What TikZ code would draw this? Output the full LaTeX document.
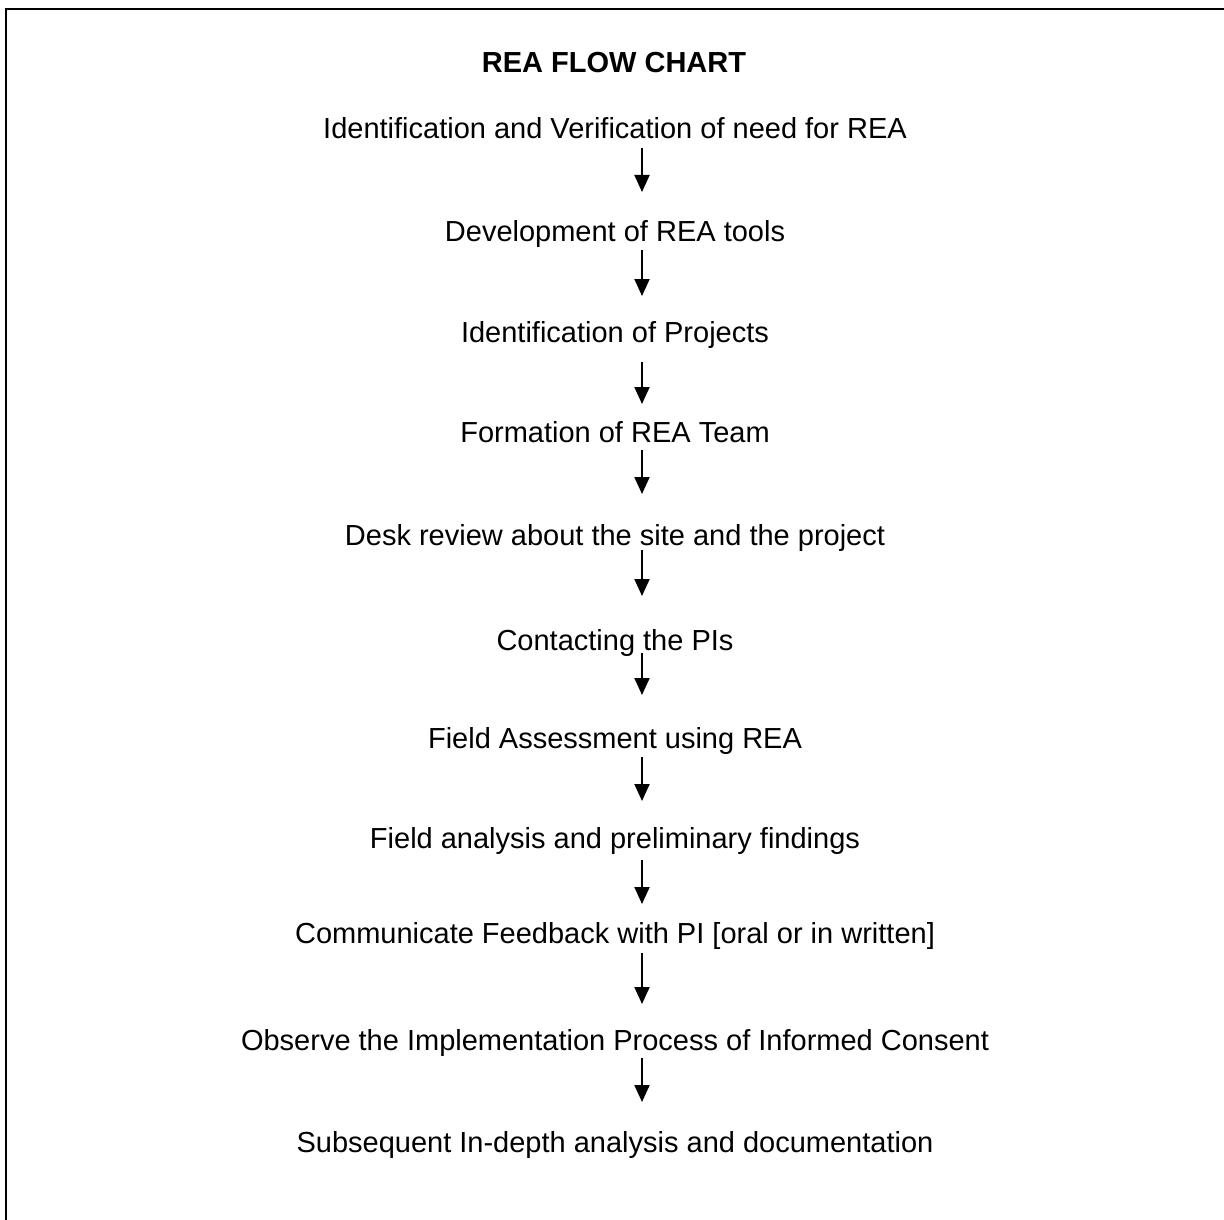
\documentclass[tikz,border=0pt]{standalone}
\usepackage{fontspec}
\setmainfont{Liberation Sans}
\usetikzlibrary{arrows.meta}
\begin{document}
\begin{tikzpicture}[x=1pt,y=-1pt,
  stepnode/.style={anchor=base,inner sep=0pt,font=\fontsize{29}{34}\selectfont},
  titlenode/.style={anchor=base,inner sep=0pt,font=\fontsize{29}{34}\selectfont\bfseries},
  flowarrow/.style={line width=2pt,-{Triangle[length=17pt,width=15pt]}},
  frameline/.style={line width=2pt}]
\useasboundingbox (0,0) rectangle (1224,1220);
\fill[white] (0,0) rectangle (1224,1220);
\draw[frameline] (6,1230) -- (6,9) -- (1234,9);
\node[titlenode] (title) at (614,73) {REA FLOW CHART};
\node[stepnode] (s1) at (615,139) {Identification and Verification of need for REA};
\node[stepnode] (s2) at (615,241) {Development of REA tools};
\node[stepnode] (s3) at (615,342) {Identification of Projects};
\node[stepnode] (s4) at (615,442) {Formation of REA Team};
\node[stepnode] (s5) at (615,545) {Desk review about the site and the project};
\node[stepnode] (s6) at (615,650) {Contacting the PIs};
\node[stepnode] (s7) at (615,748) {Field Assessment using REA};
\node[stepnode] (s8) at (615,848) {Field analysis and preliminary findings};
\node[stepnode] (s9) at (615,943) {Communicate Feedback with PI [oral or in written]};
\node[stepnode] (s10) at (615,1050) {Observe the Implementation Process of Informed Consent};
\node[stepnode] (s11) at (615,1152) {Subsequent In-depth analysis and documentation};
\coordinate (a1s) at (642,148);  \coordinate (a1e) at (642,192);
\coordinate (a2s) at (642,250);  \coordinate (a2e) at (642,296);
\coordinate (a3s) at (642,362);  \coordinate (a3e) at (642,404);
\coordinate (a4s) at (642,450);  \coordinate (a4e) at (642,494);
\coordinate (a5s) at (642,550);  \coordinate (a5e) at (642,596);
\coordinate (a6s) at (642,653);  \coordinate (a6e) at (642,695);
\coordinate (a7s) at (642,757);  \coordinate (a7e) at (642,801);
\coordinate (a8s) at (642,860);  \coordinate (a8e) at (642,904);
\coordinate (a9s) at (642,953);  \coordinate (a9e) at (642,1004);
\coordinate (a10s) at (642,1058); \coordinate (a10e) at (642,1102);
\foreach \i in {1,...,10} {\draw[flowarrow] (a\i s) -- (a\i e);}
\end{tikzpicture}
\end{document}
